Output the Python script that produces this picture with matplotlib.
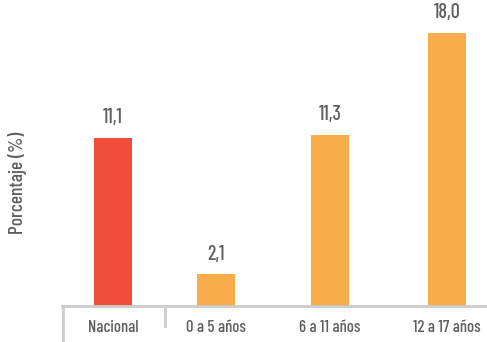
import matplotlib.pyplot as plt

categorias = ["Nacional", "0 a 5 años", "6 a 11 años", "12 a 17 años"]
valores = [11.1, 2.1, 11.3, 18.0]
colores = ["#F04E3C", "#F9AC4A", "#F9AC4A", "#F9AC4A"]

# posiciones de las barras (en pixeles del grafico)
pos = [113, 216, 330, 447]

plt.rcParams['font.family'] = ['Barlow Condensed', 'DejaVu Sans']
plt.rcParams['font.weight'] = 'medium'
gris = "#5f5f5f"

fig = plt.figure(figsize=(4.87, 3.42), dpi=100)
ax = fig.add_axes([62 / 487, 36 / 342, 425 / 487, 306 / 342])

ax.bar(pos, valores, width=38, color=colores)
for x, v in zip(pos, valores):
    ax.text(x, v + 0.7, f"{v:.1f}".replace(".", ","), ha="center", va="bottom",
            fontsize=14.5, color=gris)

ax.set_xlim(62, 487)
ax.set_ylim(0, 306 / 15.17)
ax.set_xticks([])
ax.set_yticks([])
for s in ["top", "right", "left"]:
    ax.spines[s].set_visible(False)
ax.spines["bottom"].set_color("#cccccc")
ax.spines["bottom"].set_linewidth(2)

for x, c in zip(pos, categorias):
    fig.text(x / 487, 1 - 327 / 342, c, ha="center", va="center",
             fontsize=12, color=gris)

# separadores verticales bajo el eje
sep = ax.get_xaxis_transform()
ax.plot([63, 63], [0, -36 / 306], transform=sep, color="#cccccc", lw=2, clip_on=False)
ax.plot([165, 165], [0, -20 / 306], transform=sep, color="#cccccc", lw=2, clip_on=False)

fig.text(18 / 487, 1 - 183 / 342, "Porcentaje (%)", rotation=90, ha="center",
         va="center", fontsize=14, color=gris)

fig.savefig("out.png", dpi=100)
